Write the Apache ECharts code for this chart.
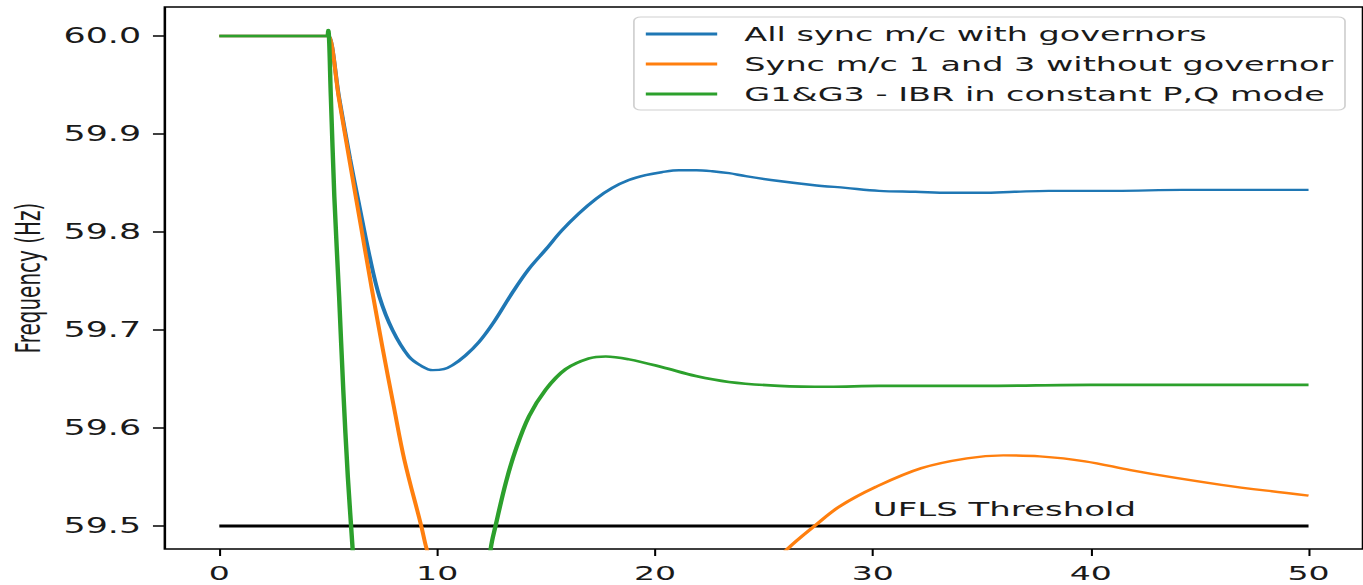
<!DOCTYPE html>
<html><head><meta charset="utf-8">
<script src="https://cdn.jsdelivr.net/npm/echarts@6/dist/echarts.min.js"></script>
<style>
html,body{margin:0;padding:0;background:#fff;overflow:hidden;width:1363px;height:585px}
#chart{width:802px;height:585px;transform:scaleX(1.6995);transform-origin:0 0;}
</style>
</head><body><div id="chart"></div>
<script>
// ---- data ----
const seriesNames = ['All sync m/c with governors', 'Sync m/c 1 and 3 without governor', 'G1&G3 - IBR in constant P,Q mode'];
const xTicks = [0, 10, 20, 30, 40, 50];
const yTicks = [59.5, 59.6, 59.7, 59.8, 59.9, 60.0];
const uflsLevel = 59.5;
const uflsT = [0, 50];
const uflsText = 'UFLS Threshold';
const uflsTextAnchor = [30, 59.507];

const tBlue = [0, 4.9, 5.0, 5.5, 6.0, 6.4, 6.9, 7.35, 7.95, 8.7, 9.3, 9.8, 10.3, 10.7, 11.3, 11.93, 12.6, 13.45, 14.2, 14.98, 15.7, 16.51, 17.3, 18.04, 18.8, 19.57, 20.3, 21.1, 21.9, 22.63, 23.4, 24.16, 25.69, 27.22, 28.75, 30.28, 31.96, 33.5, 35.0, 36.5, 38.07, 41.13, 44.19, 47.25, 50.0];
const fBlue = [60.0, 60.0, 60.0, 59.937, 59.875, 59.83, 59.775, 59.734, 59.700, 59.673, 59.663, 59.659, 59.660, 59.664, 59.674, 59.688, 59.708, 59.738, 59.762, 59.782, 59.801, 59.819, 59.834, 59.845, 59.853, 59.858, 59.861, 59.863, 59.863, 59.862, 59.860, 59.857, 59.852, 59.848, 59.845, 59.842, 59.841, 59.840, 59.840, 59.841, 59.842, 59.842, 59.843, 59.843, 59.843];

const tOrange = [0, 4.9, 5.0, 5.5, 6.0, 6.5, 7.0, 7.5, 8.0, 8.5, 9.27, 9.5, 10.5, 11.5, 13, 15, 17, 19, 21, 23, 24.5, 26.08, 27.38, 28.48, 30.15, 32.23, 34.32, 35.99, 37.66, 39.74, 41.83, 43.91, 46.0, 48.08, 50.0];
const fOrange = [60.0, 60.0, 60.0, 59.935, 59.870, 59.806, 59.742, 59.681, 59.623, 59.567, 59.500, 59.478, 59.40, 59.34, 59.29, 59.26, 59.25, 59.27, 59.33, 59.39, 59.44, 59.4765, 59.501, 59.520, 59.540, 59.559, 59.569, 59.572, 59.571, 59.566, 59.557, 59.549, 59.542, 59.536, 59.531];

const tGreen = [0, 4.9, 4.96, 5.0, 5.12, 5.28, 5.5, 5.69, 5.9, 6.12, 6.5, 7.5, 9.0, 10.5, 11.5, 12.1, 12.46, 12.69, 13.15, 13.61, 14.22, 14.98, 15.9, 16.97, 17.74, 18.81, 20.34, 21.87, 23.39, 25.69, 27.98, 30.28, 35, 40, 45, 50];
const fGreen = [60.0, 60.0, 60.0, 60.006, 59.938, 59.836, 59.734, 59.639, 59.55, 59.4765, 59.34, 59.12, 59.02, 59.1, 59.28, 59.40, 59.477, 59.501, 59.544, 59.578, 59.612, 59.639, 59.660, 59.671, 59.673, 59.670, 59.662, 59.653, 59.647, 59.643, 59.642, 59.643, 59.643, 59.644, 59.644, 59.644];

const colors = ['#1f77b4', '#ff7f0e', '#2ca02c'];

// ---- chart ----
const zip = (t, f) => t.map((v, i) => [v, f[i]]);
const FONT = 'DejaVu Sans';
const TXT = '#1a1a1a';
const chart = echarts.init(document.getElementById('chart'), null, {renderer: 'svg'});

const option = {
  animation: false,
  backgroundColor: '#fff',
  grid: {left: 97, right: 0, top: 7, bottom: 36, outerBoundsMode: 'none', containLabel: false,
         show: true, borderColor: '#000', borderWidth: 1.5, backgroundColor: 'transparent'},
  xAxis: {
    type: 'value', min: -2.5, max: 52.5,
    splitLine: {show: false},
    axisLine: {show: false, onZero: false},
    axisTick: {show: true, customValues: xTicks, length: 7, lineStyle: {color: '#000', width: 1.2}},
    axisLabel: {customValues: xTicks, fontFamily: FONT, fontSize: 19.5, color: TXT, margin: 14}
  },
  yAxis: {
    type: 'value', min: 59.4765, max: 60.0296,
    name: 'Frequency (Hz)', nameLocation: 'middle', nameRotate: 90, nameGap: 68,
    nameTextStyle: {fontFamily: FONT, fontSize: 20, color: TXT},
    splitLine: {show: false},
    axisLine: {show: false, onZero: false},
    axisTick: {show: true, customValues: yTicks, length: 7, lineStyle: {color: '#000', width: 1.5}},
    axisLabel: {customValues: yTicks, formatter: v => Number(v).toFixed(1), fontFamily: FONT, fontSize: 20.5, color: TXT, margin: 14}
  },
  legend: {
    data: seriesNames,
    orient: 'vertical', left: 373, top: 17,
    padding: [7, 7, 6, 7], itemGap: 10,
    itemWidth: 42, itemHeight: 3, icon: 'rect',
    borderColor: '#d0d0d0', borderWidth: 1, borderRadius: 4,
    backgroundColor: 'rgba(255,255,255,0.85)',
    textStyle: {fontFamily: FONT, fontSize: 19.7, color: TXT, padding: [0, 0, 0, 11]}
  },
  series: [
    {
      name: 'UFLS', type: 'line', symbol: 'none', silent: true,
      data: uflsT.map(t => [t, uflsLevel]),
      lineStyle: {color: '#000', width: 3},
      markPoint: {
        symbol: 'circle', symbolSize: 0, silent: true,
        data: [{coord: uflsTextAnchor, value: uflsText}],
        label: {show: true, formatter: uflsText, position: [0, 0], align: 'left', verticalAlign: 'bottom',
                fontFamily: FONT, fontSize: 20, color: TXT}
      }
    },
    {name: seriesNames[0], type: 'line', symbol: 'none', smooth: 0.35, data: zip(tBlue, fBlue), color: colors[0], lineStyle: {color: colors[0], width: 2.4}},
    {name: seriesNames[1], type: 'line', symbol: 'none', smooth: 0.35, data: zip(tOrange, fOrange), color: colors[1], lineStyle: {color: colors[1], width: 2.4}},
    {name: seriesNames[2], type: 'line', symbol: 'none', smooth: 0.35, data: zip(tGreen, fGreen), color: colors[2], lineStyle: {color: colors[2], width: 2.6}}
  ]
};
chart.setOption(option);
</script>
</body></html>
